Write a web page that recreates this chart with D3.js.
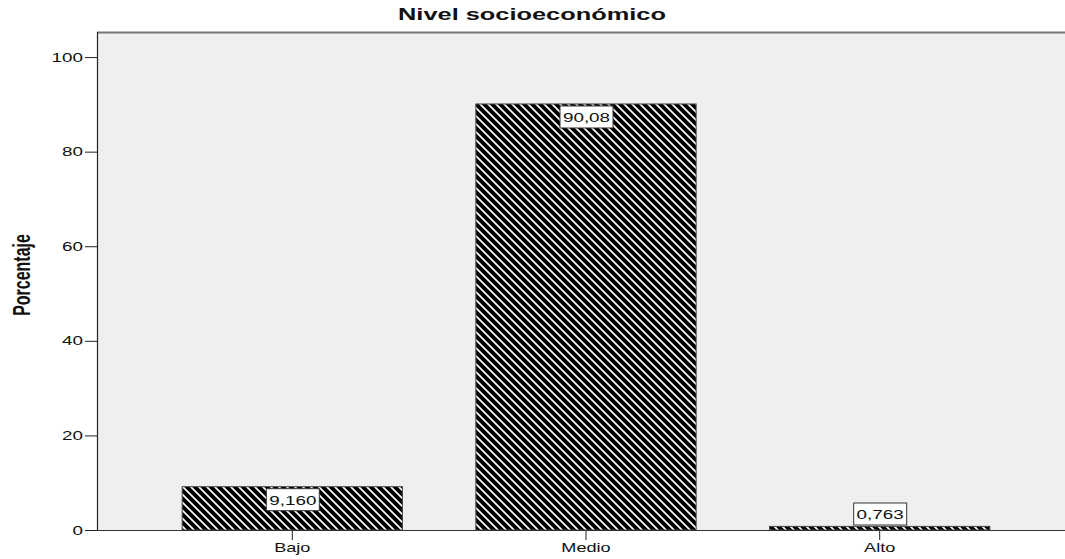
<!DOCTYPE html>
<html>
<head>
<meta charset="utf-8">
<script src="https://cdn.jsdelivr.net/npm/d3@7"></script>
<style>
  html, body { margin: 0; padding: 0; background: #fff; }
  svg { display: block; font-family: Arial, "Liberation Sans", sans-serif; }
</style>
</head>
<body>
<svg id="chart" width="1065" height="559"></svg>
<script>
// Frequency table of socioeconomic level
const categories = ["Bajo", "Medio", "Alto"];
const percentages = [9.160, 90.08, 0.763];
const valueLabels = ["9,160", "90,08", "0,763"];
const yTicks = [0, 20, 40, 60, 80, 100];

const svg = d3.select("#chart");
const W = 1065, H = 559;
const margin = { top: 32, left: 97, bottom: 29 };
const plotRight = 1075;
const y0 = H - margin.bottom;
const SX = 1.45; // horizontal stretch of all lettering

const x = d3.scaleBand()
  .domain(categories)
  .range([margin.left, plotRight])
  .paddingInner(0.25)
  .paddingOuter(0.29);

const y = d3.scaleLinear()
  .domain([0, 105.3])
  .range([y0, margin.top]);

// diagonal hatch, lines running top-left to bottom-right
const defs = svg.append("defs");
const T = 8;
const pat = defs.append("pattern")
  .attr("id", "hatch")
  .attr("patternUnits", "userSpaceOnUse")
  .attr("width", T).attr("height", T);
pat.append("rect").attr("width", T).attr("height", T).attr("fill", "#000");
pat.append("path")
  .attr("d", `M-1,-1 L${T + 1},${T + 1} M-3,${T - 3} L3,${T + 3} M${T - 3},-3 L${T + 3},3`)
  .attr("stroke", "#fff").attr("stroke-width", 1.7);

// plot background
svg.append("rect")
  .attr("x", margin.left).attr("y", margin.top)
  .attr("width", plotRight - margin.left).attr("height", y0 - margin.top)
  .attr("fill", "#efefef");
svg.append("line")
  .attr("x1", margin.left).attr("x2", W)
  .attr("y1", margin.top + 0.5).attr("y2", margin.top + 0.5)
  .attr("stroke", "#777").attr("stroke-width", 2);

// bars
svg.append("g").selectAll("rect")
  .data(categories)
  .join("rect")
  .attr("x", d => x(d))
  .attr("y", (d, i) => y(percentages[i]))
  .attr("width", x.bandwidth())
  .attr("height", (d, i) => y0 - y(percentages[i]))
  .attr("fill", "url(#hatch)")
  .attr("stroke", "#444")
  .attr("stroke-width", 1);

// y axis
const yAxis = svg.append("g")
  .attr("transform", `translate(${margin.left},0)`)
  .call(d3.axisLeft(y).tickValues(yTicks).tickSize(12).tickPadding(2).tickSizeOuter(0));
yAxis.select(".domain").remove();
yAxis.selectAll("line").attr("stroke", "#222");
yAxis.selectAll("text")
  .attr("font-size", 13).attr("fill", "#111")
  .attr("font-family", "Arial, 'Liberation Sans', sans-serif")
  .attr("x", -14 / SX)
  .attr("transform", `scale(${SX},1)`);
svg.append("line")
  .attr("x1", margin.left + 0.5).attr("x2", margin.left + 0.5)
  .attr("y1", margin.top).attr("y2", y0)
  .attr("stroke", "#222").attr("stroke-width", 1.2);

// x axis
const xAxis = svg.append("g")
  .attr("transform", `translate(0,${y0})`)
  .call(d3.axisBottom(x).tickSize(10).tickPadding(3).tickSizeOuter(0));
xAxis.select(".domain").remove();
xAxis.selectAll("line").attr("stroke", "#222");
xAxis.selectAll("text")
  .attr("font-size", 12.5).attr("fill", "#111")
  .attr("font-family", "Arial, 'Liberation Sans', sans-serif")
  .attr("transform", `scale(${SX},1)`);
svg.append("line")
  .attr("x1", margin.left).attr("x2", W)
  .attr("y1", y0 + 0.5).attr("y2", y0 + 0.5)
  .attr("stroke", "#333").attr("stroke-width", 1.2);

// value labels
const lab = svg.append("g").selectAll("g")
  .data(categories)
  .join("g")
  .attr("transform", (d, i) => {
    const cx = x(d) + x.bandwidth() / 2;
    const top = Math.min(y(percentages[i]) + 2, y0 - 27);
    return `translate(${cx},${top})`;
  });
lab.append("rect")
  .attr("x", -26).attr("y", 0).attr("width", 53).attr("height", 22)
  .attr("fill", "#fff").attr("stroke", "#333").attr("stroke-width", 1);
lab.append("text")
  .attr("transform", `translate(0.5,16) scale(${SX},1)`)
  .attr("text-anchor", "middle")
  .attr("font-size", 13).attr("fill", "#111")
  .text((d, i) => valueLabels[i]);

// title
svg.append("text")
  .attr("transform", `translate(532,20) scale(${SX * 1.03},1)`)
  .attr("text-anchor", "middle")
  .attr("font-size", 17).attr("font-weight", "bold")
  .attr("fill", "#111")
  .text("Nivel socioeconómico");

// y axis title
svg.append("text")
  .attr("transform", `translate(30,275) scale(${SX},1) rotate(-90)`)
  .attr("text-anchor", "middle")
  .attr("font-size", 16).attr("font-weight", "bold")
  .attr("fill", "#111")
  .text("Porcentaje");
</script>
</body>
</html>
